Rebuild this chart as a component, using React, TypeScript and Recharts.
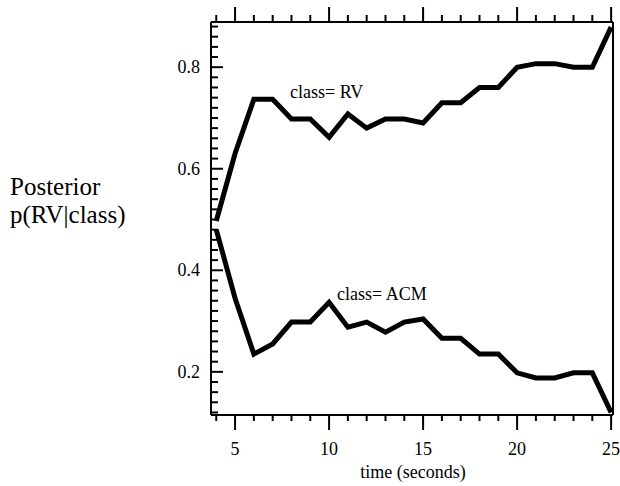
import React from 'react';
import { LineChart, Line, XAxis, YAxis } from 'recharts';

const times = [4, 5, 6, 7, 8, 9, 10, 11, 12, 13, 14, 15, 16, 17, 18, 19, 20, 21, 22, 23, 24, 25];
const rvValues = [0.497, 0.63, 0.737, 0.737, 0.698, 0.698, 0.662, 0.708, 0.68, 0.698, 0.698, 0.69, 0.73, 0.73, 0.76, 0.76, 0.8, 0.807, 0.807, 0.8, 0.8, 0.879];
const acmValues = [0.48, 0.345, 0.235, 0.255, 0.298, 0.298, 0.337, 0.288, 0.298, 0.278, 0.298, 0.304, 0.266, 0.266, 0.235, 0.235, 0.198, 0.188, 0.188, 0.198, 0.198, 0.12];

const xTicks = [4, 5, 6, 7, 8, 9, 10, 11, 12, 13, 14, 15, 16, 17, 18, 19, 20, 21, 22, 23, 24, 25];
const xLabelled = [5, 10, 15, 20, 25];
const yTicks = [0.12, 0.14, 0.16, 0.18, 0.2, 0.22, 0.24, 0.26, 0.28, 0.3, 0.32, 0.34, 0.36, 0.38, 0.4, 0.42, 0.44, 0.46, 0.48, 0.5, 0.52, 0.54, 0.56, 0.58, 0.6, 0.62, 0.64, 0.66, 0.68, 0.7, 0.72, 0.74, 0.76, 0.78, 0.8, 0.82, 0.84, 0.86, 0.88];
const yLabelled = [0.2, 0.4, 0.6, 0.8];

const data = times.map((t, i) => ({ t, rv: rvValues[i], acm: acmValues[i] }));

const FONT = '"Liberation Serif", "DejaVu Serif", serif';

const isMajorY = (v: number) => yLabelled.some((m) => Math.abs(m - v) < 1e-6);

const BottomTick = (props: any) => {
  const { x, y, payload } = props;
  const major = xLabelled.includes(payload.value);
  return (
    <g>
      <line x1={x} y1={y} x2={x} y2={y + (major ? 15 : 6)} stroke="#000" strokeWidth={2} />
      {major && (
        <text x={x} y={y + 40} textAnchor="middle" fontFamily={FONT} fontSize={18} fill="#000">
          {payload.value}
        </text>
      )}
    </g>
  );
};

const TopTick = (props: any) => {
  const { x, y, payload } = props;
  const major = xLabelled.includes(payload.value);
  return <line x1={x} y1={y} x2={x} y2={y - (major ? 15 : 7)} stroke="#000" strokeWidth={2} />;
};

const LeftTick = (props: any) => {
  const { x, y, payload } = props;
  const major = isMajorY(payload.value);
  return (
    <g>
      <line x1={x} y1={y} x2={x + (major ? 12 : 7)} y2={y} stroke="#000" strokeWidth={2} />
      {major && (
        <text x={x - 11} y={y + 6} textAnchor="end" fontFamily={FONT} fontSize={18} fill="#000">
          {payload.value.toFixed(1)}
        </text>
      )}
    </g>
  );
};

const RightTick = (props: any) => {
  const { x, y, payload } = props;
  const major = isMajorY(payload.value);
  return <line x1={x} y1={y} x2={x - (major ? 13 : 5)} y2={y} stroke="#000" strokeWidth={2} />;
};

const axisLineStyle = { stroke: '#000', strokeWidth: 2 };

export default function App() {
  return (
    <div style={{ position: 'absolute', left: 0, top: 0, width: 620, height: 486, background: '#fff' }}>
      <LineChart width={620} height={486} data={data} margin={{ top: 21, right: 6, bottom: 70, left: 210 }}>
        <XAxis
          dataKey="t"
          type="number"
          domain={[3.72, 25.1]}
          ticks={xTicks}
          interval={0}
          height={1}
          tickSize={0}
          tickMargin={0}
          tickLine={false}
          axisLine={axisLineStyle}
          tick={<BottomTick />}
        />
        <XAxis
          xAxisId="top"
          orientation="top"
          dataKey="t"
          type="number"
          domain={[3.72, 25.1]}
          ticks={xTicks}
          interval={0}
          height={1}
          tickSize={0}
          tickMargin={0}
          tickLine={false}
          axisLine={axisLineStyle}
          tick={<TopTick />}
        />
        <YAxis
          type="number"
          domain={[0.115, 0.889]}
          ticks={yTicks}
          interval={0}
          width={1}
          tickSize={0}
          tickMargin={0}
          tickLine={false}
          axisLine={axisLineStyle}
          tick={<LeftTick />}
        />
        <YAxis
          yAxisId="right"
          orientation="right"
          type="number"
          domain={[0.115, 0.889]}
          ticks={yTicks}
          interval={0}
          width={1}
          tickSize={0}
          tickMargin={0}
          tickLine={false}
          axisLine={axisLineStyle}
          tick={<RightTick />}
        />
        <Line dataKey="rv" type="linear" stroke="#000" strokeWidth={5} strokeLinejoin="miter" dot={false} isAnimationActive={false} />
        <Line dataKey="acm" type="linear" stroke="#000" strokeWidth={5} strokeLinejoin="miter" dot={false} isAnimationActive={false} />
      </LineChart>
      <svg width={620} height={486} style={{ position: 'absolute', left: 0, top: 0, pointerEvents: 'none' }}>
        <g fontFamily={FONT} fill="#000">
          <text x={290} y={98} fontSize={18}>class= RV</text>
          <text x={337} y={300} fontSize={18}>class= ACM</text>
          <text x={413} y={478} fontSize={18} textAnchor="middle">time (seconds)</text>
          <text x={10} y={195} fontSize={25}>Posterior</text>
          <text x={10} y={223} fontSize={25}>p(RV|class)</text>
        </g>
      </svg>
    </div>
  );
}
